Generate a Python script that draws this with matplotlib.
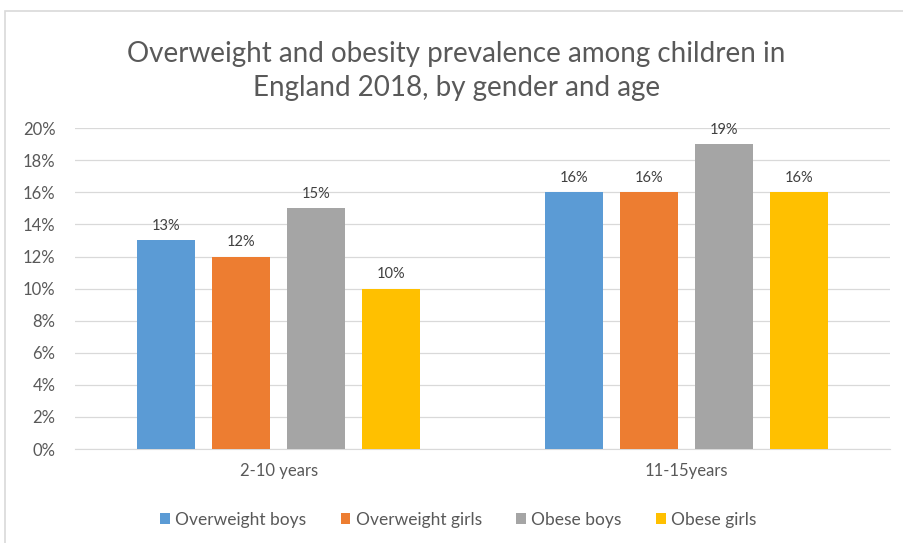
import matplotlib
matplotlib.use("Agg")
import matplotlib.pyplot as plt
import matplotlib.patches as patches
import numpy as np

categories = ['2-10 years', '11-15years']
series_names = ['Overweight boys', 'Overweight girls', 'Obese boys', 'Obese girls']
values = {
    'Overweight boys': [13, 16],
    'Overweight girls': [12, 16],
    'Obese boys': [15, 19],
    'Obese girls': [10, 16],
}
colors = ['#5B9BD5', '#ED7D31', '#A5A5A5', '#FFC000']
yticks = [0, 2, 4, 6, 8, 10, 12, 14, 16, 18, 20]

plt.rcParams['font.family'] = ['Lato', 'DejaVu Sans']

fig = plt.figure(figsize=(9.04, 5.43), dpi=100)
ax = fig.add_axes([0.083, 0.173, 0.902, 0.591])

# chart border
fig.patches.append(patches.Rectangle((0.006, -0.02), 1.2, 1.0, transform=fig.transFigure,
                                     fill=False, edgecolor='#d9d9d9', lw=1.2))

x = np.arange(len(categories))
step = 0.184
width = 0.142
for i, name in enumerate(series_names):
    pos = x + (i - 1.5) * step
    bars = ax.bar(pos, values[name], width, color=colors[i], label=name, zorder=3)
    for b, v in zip(bars, values[name]):
        ax.text(b.get_x() + b.get_width() / 2, v + 0.45, '%d%%' % v,
                ha='center', va='bottom', fontsize=10.5, color='#404040')

ax.set_xlim(-0.5, 1.5)
ax.set_ylim(0, 20)
ax.set_yticks(yticks)
ax.set_yticklabels(['%d%%' % t for t in yticks])
ax.set_xticks(x)
ax.set_xticklabels(categories)
ax.tick_params(axis='both', length=0, labelsize=12, labelcolor='#595959')
ax.tick_params(axis='x', pad=10)
ax.tick_params(axis='y', pad=14)
ax.grid(axis='y', color='#d9d9d9', lw=0.9, zorder=0)
for s in ['top', 'right', 'left']:
    ax.spines[s].set_visible(False)
ax.spines['bottom'].set_color('#d9d9d9')

fig.text(0.505, 0.869, 'Overweight and obesity prevalence among children in\nEngland 2018, by gender and age',
         ha='center', va='center', fontsize=20, color='#595959', linespacing=1.35)

ax.legend(loc='center', bbox_to_anchor=(0.47, -0.22), ncol=4, frameon=False,
          fontsize=12.5, handlelength=0.55, handleheight=0.55, handletextpad=0.3,
          columnspacing=2.0, labelcolor='#595959')

fig.savefig('out.png', dpi=100)
